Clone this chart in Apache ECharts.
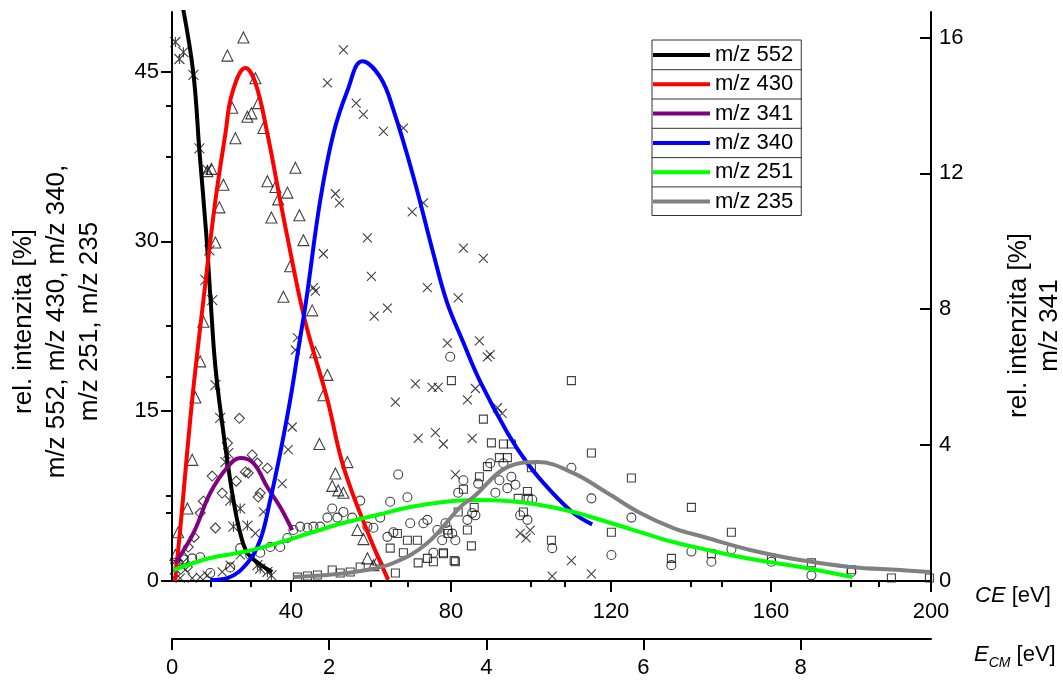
<!DOCTYPE html>
<html><head><meta charset="utf-8">
<script src="https://cdn.jsdelivr.net/npm/echarts@6/dist/echarts.min.js"></script>
<style>html,body{margin:0;padding:0;background:#fff}#c{width:1063px;height:680px}</style>
</head><body><div id="c"></div><script>
// ---- tick values ----
const ceMajor = [40, 80, 120, 160, 200];
const ceMinor = [20, 60, 100, 140, 180];
const ecmMajor = [0, 2, 4, 6, 8];
const ecmMinor = [1, 3, 5, 7, 9];
const leftMajor = [0, 15, 30, 45];
const leftMinor = [7.5, 22.5, 37.5];
const rightMajor = [0, 4, 8, 12, 16];
const rightMinor = [2, 6, 10, 14];

// ---- series names ----
const names = ['m/z 552', 'm/z 430', 'm/z 341', 'm/z 340', 'm/z 251', 'm/z 235'];

// ---- fitted curves [CE, rel. intensity] ----
const fit552 = [[13.0,50.6],[15.6,44.8],[17.1,38.0],[18.8,30.7],[19.9,24.8],[21.1,18.9],[23.1,13.1],[24.3,10.1],[25.6,7.15],[27.3,4.24],[29.1,2.47],[31.8,1.59],[35.3,0.79]];
const fit430 = [[11.0,0.0],[12.2,4.2],[15.3,16.0],[18.1,24.8],[21.1,33.6],[23.6,39.5],[25.3,43.1],[28.6,45.3],[31.1,44.0],[34.1,39.5],[37.3,33.6],[40.6,27.7],[42.3,24.8],[44.3,21.9],[49.1,16.0],[53.1,10.1],[59.3,4.2],[64.3,0.1]];
const fit341 = [[11.1,0.53],[15.6,1.41],[19.8,2.59],[24.1,3.35],[27.3,3.62],[30.6,3.47],[34.1,2.76],[37.3,2.18],[40.3,1.5]];
const fit340 = [[19.8,0.09],[24.1,0.26],[29.1,1.59],[32.3,3.62],[34.8,7.15],[37.3,11.3],[39.8,16.0],[41.8,20.4],[43.8,24.8],[47.3,33.6],[50.6,39.5],[54.1,43.3],[57.8,45.9],[62.3,44.5],[65.6,41.6],[70.6,35.7],[75.6,28.9],[79.0,24.6],[82.8,21.3],[87.3,17.6],[94.1,13.1],[99.1,10.4],[104.8,8.0],[110.6,6.0],[115.3,5.0]];
const fit251 = [[10.6,0.97],[19.8,2.03],[28.1,2.56],[36.6,3.35],[44.8,4.24],[53.1,5.12],[61.6,5.83],[69.8,6.53],[78.1,6.97],[85.6,7.15],[94.1,7.06],[102.3,6.71],[110.6,6.09],[119.1,5.21],[127.3,4.32],[135.6,3.44],[144.1,2.74],[153.6,2.03],[167.3,1.24],[180.3,0.35]];
const fit235 = [[40.6,0.35],[49.1,0.53],[57.3,0.88],[65.6,1.59],[74.1,3.35],[82.3,6.53],[85.6,7.41],[94.1,10.06],[101.6,10.5],[110.6,9.53],[119.1,7.77],[127.3,6.0],[135.6,4.68],[144.1,3.80],[154.8,2.74],[167.3,1.85],[179.8,1.24],[192.3,0.97],[199.8,0.79]];

// ---- measured points [CE, rel. intensity] ----
const pts552 = [[11.1,47.6],[13.1,46.7],[12.1,46.1],[15.6,44.7],[17.1,38.2],[19.1,36.3],[19.6,29.2],[18.6,26.6],[20.3,24.8],[21.1,17.3],[22.3,14.4],[23.6,10.5],[24.3,11.3],[24.8,7.1],[27.3,6.4],[29.1,4.9],[25.6,4.8],[31.6,1.4],[32.3,1.1],[34.1,0.8],[35.1,0.5]];
const pts430 = [[28.1,48.0],[24.1,46.4],[31.1,44.4],[25.3,41.8],[29.1,41.0],[30.1,41.3],[31.8,42.2],[33.1,40.0],[26.1,39.1],[20.1,36.4],[19.1,36.2],[23.1,35.0],[22.1,33.0],[34.1,35.3],[36.1,34.8],[39.1,34.3],[36.8,33.7],[41.1,36.5],[42.1,32.3],[35.1,32.1],[43.1,30.1],[21.1,29.9],[39.8,27.8],[38.1,25.1],[18.1,22.9],[17.3,19.4],[16.1,16.2],[15.3,10.7],[14.1,6.4],[11.8,4.3],[11.1,2.3],[45.3,23.9],[46.1,20.2],[49.1,18.2],[48.1,16.4],[47.1,12.1],[54.1,10.5],[51.1,9.5],[50.3,8.4],[51.8,8.0],[53.1,7.8],[56.6,4.5],[58.1,3.7],[59.1,2.0],[61.8,1.9],[60.6,1.4]];
const pts341 = [[27.1,4.79],[24.1,4.06],[30.3,3.71],[31.6,3.47],[20.3,3.09],[26.3,2.94],[28.6,3.21],[29.3,3.18],[34.1,3.32],[32.3,2.59],[31.8,2.47],[18.1,2.35],[22.8,2.59],[17.3,2.0],[21.1,1.56],[15.8,1.29],[14.3,1.0],[13.1,0.71],[11.8,0.53],[11.1,0.21],[14.1,0.41]];
const pts340 = [[53.1,46.9],[49.1,44.0],[56.3,42.2],[58.1,41.2],[63.1,39.7],[68.1,40.0],[51.1,34.2],[52.1,33.4],[70.3,32.6],[73.1,33.4],[59.1,30.3],[48.1,28.9],[60.1,26.9],[45.6,25.9],[46.1,25.6],[74.1,25.9],[81.8,25.0],[83.1,29.4],[88.1,28.5],[60.8,23.4],[64.1,24.1],[41.6,21.5],[41.1,20.4],[79.1,21.0],[71.1,17.4],[66.1,15.8],[75.3,17.1],[76.8,17.1],[71.8,12.6],[76.1,13.1],[78.1,12.1],[87.1,21.2],[89.8,20.0],[89.1,19.8],[86.1,17.0],[84.1,16.0],[85.3,12.6],[91.6,15.3],[92.8,14.8],[81.1,9.4],[97.3,4.2],[99.8,4.5],[98.8,3.8],[110.1,1.8],[105.3,0.44],[115.1,0.62],[40.3,13.6],[39.3,11.6],[37.8,8.6],[33.1,6.1],[31.1,4.2],[27.3,2.3],[24.8,1.4],[22.8,0.8],[19.1,0.5],[17.3,0.35],[15.3,0.26],[12.3,0.26],[13.6,1.0]];
const pts251 = [[11.1,1.6],[13.1,1.9],[15.3,2.0],[17.3,2.1],[19.8,0.7],[24.8,1.2],[27.3,2.9],[29.8,2.3],[32.3,2.5],[34.8,3.0],[37.3,3.0],[39.1,3.8],[40.6,4.5],[42.3,4.8],[44.1,4.7],[45.6,4.8],[47.3,4.8],[49.1,5.6],[50.3,6.4],[51.6,5.6],[53.1,6.1],[55.3,5.6],[57.3,7.1],[59.1,4.8],[60.6,4.7],[62.3,5.6],[64.8,7.0],[66.8,9.4],[69.1,7.4],[64.1,3.9],[65.6,4.3],[69.8,5.1],[73.1,5.1],[74.1,5.4],[76.6,4.5],[77.8,3.6],[78.6,5.1],[80.3,4.2],[81.1,3.6],[79.8,19.8],[81.8,7.8],[75.6,2.5],[83.1,8.9],[84.1,5.4],[85.3,6.0],[86.1,5.8],[86.8,8.6],[89.8,10.4],[91.1,7.8],[92.1,8.9],[93.1,10.4],[94.1,8.2],[95.1,9.2],[96.1,8.5],[97.3,5.8],[99.1,5.4],[100.3,7.2],[105.3,2.9],[110.1,10.0],[115.1,7.3],[120.1,2.3],[125.1,5.6],[135.1,1.4],[140.1,2.6],[145.1,1.7],[150.1,2.8],[160.1,1.7],[170.1,0.5],[180.1,0.8]];
const pts235 = [[41.6,0.35],[44.1,0.44],[46.6,0.53],[50.3,0.97],[52.3,0.71],[54.8,0.79],[57.3,1.24],[64.8,2.9],[66.1,0.71],[66.6,4.2],[69.1,3.6],[71.6,3.6],[71.8,1.6],[68.1,2.5],[74.1,2.0],[75.6,1.7],[78.1,2.5],[79.3,4.2],[80.1,17.7],[81.1,1.7],[88.1,14.3],[90.1,12.2],[93.1,12.1],[95.1,12.1],[92.1,10.9],[94.1,10.9],[89.1,10.1],[87.1,9.2],[83.1,8.1],[85.8,6.5],[81.8,6.1],[84.1,4.5],[79.1,4.5],[78.1,2.4],[80.8,1.8],[85.1,3.1],[96.8,7.3],[99.1,7.9],[99.3,7.3],[100.1,10.0],[98.1,6.1],[105.1,3.6],[110.1,17.7],[115.1,11.3],[120.1,4.3],[125.1,9.1],[135.1,2.0],[140.1,6.5],[145.1,2.4],[150.1,4.3],[160.1,2.0],[170.1,1.6],[180.1,1.0],[190.1,0.26],[199.6,0.26]];

const FONT = '"Liberation Sans", Arial, "DejaVu Sans", sans-serif';
const lineColors = ['#000000', '#ff0000', '#800080', '#0000ff', '#00ff00', '#808080'];
const fits = [fit552, fit430, fit341, fit340, fit251, fit235];
const pts = [pts552, pts430, pts341, pts340, pts251, pts235];
const symbols = [
  'path://M0,0L10,10M10,0L0,10M5,0L5,10',
  'triangle', 'diamond',
  'path://M0,0L10,10M10,0L0,10',
  'circle', 'rect'
];
const symSizes = [10, 11, 10, 9, 9, 8];

const CE_MIN = 10.25, CE_MAX = 200, ECM_MAX = 9.66, L_MAX = 50.25, R_MAX = 16.75;
const axisLineStyle = {color: '#000', width: 2};
const lblStyle = {fontSize: 22, color: '#000', fontFamily: FONT};

const series = [];
pts.forEach((p, i) => {
  series.push({
    name: names[i] + ' data', type: 'scatter', data: p,
    xAxisIndex: 0, yAxisIndex: i === 2 ? 1 : 0,
    symbol: symbols[i], symbolSize: symSizes[i], silent: true, z: 2,
    itemStyle: {color: 'rgba(0,0,0,0)', borderColor: '#111', borderWidth: 1.1}
  });
});
fits.forEach((f, i) => {
  series.push({
    name: names[i], type: 'line', data: f, smooth: 0.4,
    xAxisIndex: 0, yAxisIndex: i === 2 ? 1 : 0,
    showSymbol: false, symbol: 'none', silent: true, z: 5,
    lineStyle: {color: lineColors[i], width: 4}, itemStyle: {color: lineColors[i]}
  });
});

const chart = echarts.init(document.getElementById('c'), null, {renderer: 'canvas'});
chart.setOption({
  animation: false,
  backgroundColor: '#fff',
  grid: {left: 172, right: 132, top: 12, bottom: 99, containLabel: false, outerBoundsMode: 'none'},
  legend: {
    data: names, orient: 'vertical', left: 652, top: 40,
    padding: [4, 8, 3, 1], itemGap: 7.3, itemWidth: 57, itemHeight: 4, icon: 'rect',
    borderColor: '#333', borderWidth: 1,
    textStyle: {fontSize: 22, color: '#000', lineHeight: 22, fontFamily: FONT}
  },
  graphic: [69.7, 99, 128.3, 157.6, 186.9].map(y => ({
    type: 'line', shape: {x1: 652, y1: y, x2: 802, y2: y}, style: {stroke: '#333', lineWidth: 1}, z: 100
  })),
  xAxis: [
    {type: 'value', position: 'bottom', min: CE_MIN, max: CE_MAX,
     axisLine: {onZero: false, lineStyle: axisLineStyle},
     axisTick: {customValues: ceMajor, length: 11, lineStyle: {width: 2, color: '#000'}},
     axisLabel: Object.assign({customValues: ceMajor, margin: 20}, lblStyle),
     splitLine: {show: false},
     name: '{i|CE} [eV]', nameLocation: 'end', nameGap: 44,
     nameTextStyle: {fontSize: 22, color: '#000', fontFamily: FONT, padding: [30, 0, 0, 0],
       rich: {i: {fontStyle: 'italic', fontSize: 22, color: '#000', fontFamily: FONT}}}},
    {type: 'value', position: 'bottom', min: CE_MIN, max: CE_MAX,
     axisLine: {show: false},
     axisTick: {customValues: ceMinor, length: 6, lineStyle: {width: 2, color: '#000'}},
     axisLabel: {show: false}, splitLine: {show: false}},
    {type: 'value', position: 'bottom', offset: 58, min: 0, max: ECM_MAX,
     axisLine: {onZero: false, lineStyle: axisLineStyle},
     axisTick: {customValues: ecmMajor, length: 11, lineStyle: {width: 2, color: '#000'}},
     axisLabel: Object.assign({customValues: ecmMajor, margin: 18}, lblStyle),
     splitLine: {show: false},
     name: '{i|E}{s|CM} [eV]', nameLocation: 'end', nameGap: 43,
     nameTextStyle: {fontSize: 22, color: '#000', fontFamily: FONT, padding: [32, 0, 0, 0], lineHeight: 30,
       rich: {i: {fontStyle: 'italic', fontSize: 22, color: '#000', fontFamily: FONT, lineHeight: 30},
              s: {fontStyle: 'italic', fontSize: 14, color: '#000', fontFamily: FONT, lineHeight: 30, verticalAlign: 'bottom'}}}},
    {type: 'value', position: 'bottom', offset: 58, min: 0, max: ECM_MAX,
     axisLine: {show: false},
     axisTick: {customValues: ecmMinor, length: 6, lineStyle: {width: 2, color: '#000'}},
     axisLabel: {show: false}, splitLine: {show: false}}
  ],
  yAxis: [
    {type: 'value', position: 'left', min: 0, max: L_MAX,
     axisLine: {show: true, onZero: false, lineStyle: axisLineStyle},
     axisTick: {customValues: leftMajor, length: 11, lineStyle: {width: 2, color: '#000'}},
     axisLabel: Object.assign({customValues: leftMajor, margin: 13}, lblStyle),
     splitLine: {show: false},
     name: 'rel. intenzita [%]\nm/z 552, m/z 430, m/z 340,\nm/z 251, m/z 235',
     nameLocation: 'middle', nameGap: 66,
     nameTextStyle: {fontSize: 26, color: '#000', fontFamily: FONT, lineHeight: 33, padding: [0, 50, 0, 0]}},
    {type: 'value', position: 'right', min: 0, max: R_MAX,
     axisLine: {show: true, onZero: false, lineStyle: axisLineStyle},
     axisTick: {inside: true, customValues: rightMajor, length: 11, lineStyle: {width: 2, color: '#000'}},
     axisLabel: Object.assign({customValues: rightMajor, margin: 8}, lblStyle),
     splitLine: {show: false},
     name: 'rel. intenzita [%]\nm/z 341',
     nameLocation: 'middle', nameGap: 72, nameRotate: 90,
     nameTextStyle: {fontSize: 26, color: '#000', fontFamily: FONT, lineHeight: 31, padding: [0, 58, 0, 0]}},
    {type: 'value', position: 'left', min: 0, max: L_MAX,
     axisLine: {show: false},
     axisTick: {customValues: leftMinor, length: 6, lineStyle: {width: 2, color: '#000'}},
     axisLabel: {show: false}, splitLine: {show: false}},
    {type: 'value', position: 'right', min: 0, max: R_MAX,
     axisLine: {show: false},
     axisTick: {inside: true, customValues: rightMinor, length: 6, lineStyle: {width: 2, color: '#000'}},
     axisLabel: {show: false}, splitLine: {show: false}}
  ],
  series: series
});
</script></body></html>
